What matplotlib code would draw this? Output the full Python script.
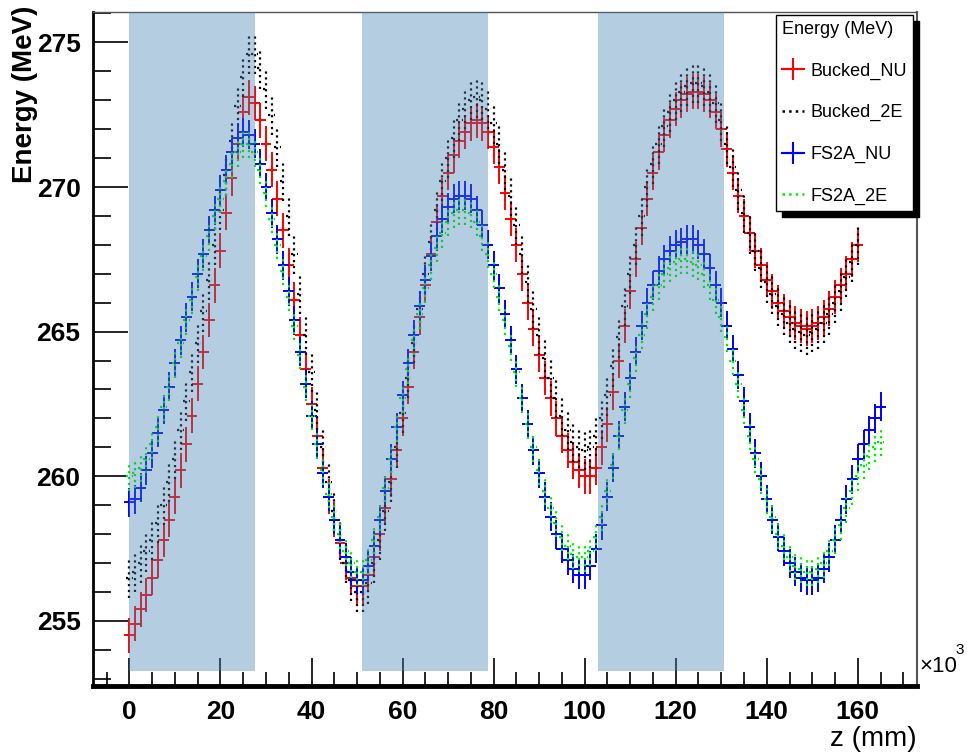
import numpy as np
import matplotlib
matplotlib.use("Agg")
import matplotlib.pyplot as plt
from matplotlib.lines import Line2D
from matplotlib.patches import Rectangle
from matplotlib.ticker import MultipleLocator

# z positions (x10^3 mm) of the sampled points
z_bucked = np.arange(0, 160.01, 1.25)
z_fs2a = np.arange(0, 165.01, 1.25)

bucked_nu = [254.5, 254.9, 255.4, 255.9, 256.5, 257.1, 257.8, 258.5,
             259.3, 260.2, 261.1, 262.1, 263.2, 264.3, 265.4, 266.6,
             267.8, 269.1, 270.3, 271.5, 272.6, 273.1, 272.9, 272.3,
             271.5, 270.6, 269.6, 268.5, 267.3, 266.1, 264.9, 263.7,
             262.5, 261.4, 260.3, 259.3, 258.5, 257.7, 257.0, 256.5,
             256.2, 256.2, 256.6, 257.2, 258.0, 258.9, 259.9, 260.9,
             262.0, 263.1, 264.3, 265.5, 266.6, 267.7, 268.8, 269.7,
             270.5, 271.1, 271.6, 271.9, 272.2, 272.3, 272.2, 271.9,
             271.4, 270.7, 269.8, 268.9, 268.0, 267.0, 266.0, 265.1,
             264.2, 263.4, 262.7, 262.0, 261.4, 260.9, 260.5, 260.2,
             260.0, 260.0, 260.3, 261.0, 261.8, 262.9, 264.0, 265.2,
             266.4, 267.5, 268.6, 269.6, 270.5, 271.2, 271.8, 272.3,
             272.7, 273.0, 273.2, 273.3, 273.3, 273.2, 273.0, 272.6,
             272.0, 271.3, 270.5, 269.7, 269.0, 268.4, 267.8, 267.3,
             266.8, 266.4, 266.0, 265.7, 265.5, 265.3, 265.2, 265.1,
             265.2, 265.3, 265.5, 265.8, 266.2, 266.6, 267.0, 267.5,
             268.0]

bucked_2e = [256.5, 256.7, 257.0, 257.4, 257.8, 258.4, 259.0, 259.8,
             260.6, 261.6, 262.6, 263.6, 264.6, 265.7, 266.8, 268.0,
             269.2, 270.4, 271.6, 272.8, 273.8, 274.6, 274.6, 274.1,
             273.4, 272.5, 271.4, 270.2, 269.0, 267.7, 266.3, 264.9,
             263.6, 262.3, 261.0, 259.8, 258.8, 257.8, 257.0, 256.4,
             256.0, 256.0, 256.3, 257.0, 257.8, 258.8, 259.8, 261.0,
             262.2, 263.4, 264.6, 265.8, 267.0, 268.1, 269.2, 270.2,
             271.0, 271.7, 272.3, 272.7, 273.0, 273.1, 273.0, 272.7,
             272.2, 271.5, 270.6, 269.7, 268.7, 267.7, 266.7, 265.8,
             264.9, 264.1, 263.4, 262.7, 262.1, 261.6, 261.2, 261.0,
             260.9, 261.0, 261.4, 262.0, 262.8, 263.8, 264.8, 265.9,
             267.0, 268.0, 269.0, 270.0, 270.8, 271.5, 272.1, 272.6,
             273.0, 273.3, 273.5, 273.6, 273.6, 273.5, 273.3, 272.9,
             272.3, 271.5, 270.7, 269.9, 269.1, 268.4, 267.8, 267.2,
             266.7, 266.3, 265.9, 265.6, 265.3, 265.1, 265.0, 264.9,
             265.0, 265.1, 265.3, 265.6, 266.0, 266.4, 266.9, 267.4,
             268.0]

fs2a_nu = [259.1, 259.2, 259.6, 260.2, 260.8, 261.5, 262.3, 263.1,
           263.9, 264.7, 265.5, 266.2, 267.0, 267.7, 268.5, 269.2,
           269.9, 270.6, 271.2, 271.7, 271.9, 271.8, 271.5, 270.8,
           270.0, 269.1, 268.2, 267.3, 266.4, 265.4, 264.3, 263.2,
           262.1, 261.1, 260.1, 259.3, 258.5, 257.8, 257.2, 256.7,
           256.4, 256.4, 256.9, 257.6, 258.5, 259.5, 260.6, 261.7,
           262.8, 263.9, 264.9, 265.9, 266.8, 267.6, 268.3, 268.9,
           269.3, 269.6, 269.7, 269.7, 269.6, 269.2, 268.7, 268.0,
           267.3, 266.5, 265.6, 264.7, 263.7, 262.7, 261.8, 260.9,
           260.1, 259.3, 258.6, 258.0, 257.5, 257.1, 256.8, 256.6,
           256.6, 256.9, 257.5, 258.3, 259.3, 260.3, 261.4, 262.4,
           263.4, 264.3, 265.2, 266.0, 266.6, 267.1, 267.5, 267.8,
           268.0, 268.1, 268.2, 268.2, 268.0, 267.7, 267.2, 266.6,
           266.0, 265.2, 264.4, 263.5, 262.6, 261.7, 260.8, 260.0,
           259.2, 258.5, 257.9, 257.4, 257.0, 256.7, 256.5, 256.4,
           256.4, 256.5, 256.8, 257.2, 257.8, 258.5, 259.2, 259.9,
           260.6, 261.1, 261.6, 262.0, 262.4]

fs2a_2e = [260.0, 260.1, 260.3, 260.6, 261.1, 261.7, 262.4, 263.1,
           263.9, 264.6, 265.4, 266.1, 266.9, 267.6, 268.3, 269.0,
           269.6, 270.2, 270.8, 271.2, 271.5, 271.5, 271.2, 270.6,
           269.8, 268.9, 268.0, 267.1, 266.2, 265.2, 264.2, 263.1,
           262.1, 261.1, 260.2, 259.4, 258.6, 258.0, 257.4, 257.0,
           256.7, 256.7, 257.1, 257.8, 258.6, 259.6, 260.6, 261.7,
           262.7, 263.7, 264.7, 265.6, 266.5, 267.3, 267.9, 268.4,
           268.8, 269.1, 269.2, 269.2, 269.1, 268.8, 268.3, 267.7,
           267.0, 266.2, 265.4, 264.5, 263.6, 262.7, 261.8, 261.0,
           260.2, 259.5, 258.9, 258.4, 257.9, 257.6, 257.3, 257.2,
           257.2, 257.4, 257.9, 258.6, 259.5, 260.4, 261.4, 262.3,
           263.2, 264.1, 264.9, 265.6, 266.2, 266.6, 267.0, 267.2,
           267.4, 267.5, 267.5, 267.4, 267.3, 267.0, 266.6, 266.1,
           265.5, 264.8, 264.0, 263.2, 262.3, 261.4, 260.6, 259.9,
           259.2, 258.6, 258.0, 257.6, 257.2, 256.9, 256.8, 256.7,
           256.7, 256.8, 257.0, 257.4, 257.8, 258.3, 258.9, 259.5,
           260.0, 260.4, 260.7, 261.0, 261.2]

# shaded regions (x10^3 mm)
bands = [(0, 27.5), (51, 78.7), (102.9, 130.5)]

# name, z, energy, colour, line style, x error, y error, error line width
series = [
    ("Bucked_NU", z_bucked, bucked_nu, "#ff0000", "-", 1.2, 0.6, 1.4),
    ("Bucked_2E", z_bucked, bucked_2e, "black", ":", 0.7, 0.7, 1.6),
    ("FS2A_NU", z_fs2a, fs2a_nu, "#0000ff", "-", 1.2, 0.5, 1.4),
    ("FS2A_2E", z_fs2a, fs2a_2e, "#00ee00", ":", 0.7, 0.5, 1.6),
]

tick_font = dict(family=["Liberation Sans", "DejaVu Sans"], weight="bold", size=19)
leg_font = dict(family=["Liberation Sans", "DejaVu Sans"], size=13)

fig = plt.figure(figsize=(9.67, 7.52), dpi=100)
ax = fig.add_axes([93 / 967, 1 - 686 / 752, (917 - 93) / 967, (686 - 12) / 752])

handles = []
for name, z, e, col, ls, xe, ye, lw in series:
    eb = ax.errorbar(z, e, xerr=xe, yerr=ye, fmt="none", ecolor=col,
                     elinewidth=lw, capsize=0, zorder=3)
    for lc in eb[2]:
        lc.set_linestyle(ls)
    if ls == "-":
        h = Line2D([], [], color=col, lw=1.5, marker="+", markersize=16, mew=1.5)
    else:
        h = Line2D([], [], color=col, lw=1.8, ls=":")
    handles.append(h)

# the shaded regions sit on top of the data, like in the original
for x0, x1 in bands:
    ax.axvspan(x0, x1, ymin=0.022, ymax=1, color="#4682b4", alpha=0.4, lw=0, zorder=5)

ax.set_xlim(-8, 173)
ax.set_ylim(252.75, 276.05)

ax.xaxis.set_major_locator(MultipleLocator(20))
ax.xaxis.set_minor_locator(MultipleLocator(5))
ax.yaxis.set_major_locator(MultipleLocator(5))
ax.yaxis.set_minor_locator(MultipleLocator(1))
ax.tick_params(which="major", direction="in", length=20, width=1.2, color="black")
ax.tick_params(which="minor", direction="in", length=10, width=1.2, color="black")
ax.tick_params(axis="y", which="major", length=25, pad=9)
ax.tick_params(axis="y", which="minor", length=13)
ax.tick_params(axis="x", pad=10)
ax.tick_params(top=False, right=False)
for lab in ax.get_xticklabels() + ax.get_yticklabels():
    lab.set_fontproperties(matplotlib.font_manager.FontProperties(**tick_font))

ax.spines["left"].set_linewidth(2)
ax.spines["bottom"].set_linewidth(3.5)
ax.spines["top"].set_linewidth(1)
ax.spines["top"].set_color("#555555")
ax.spines["right"].set_linewidth(1.5)
ax.spines["right"].set_color("#555555")

fig.text(25 / 967, 1 - 6 / 752, "Energy (MeV)", rotation=90, ha="center", va="top",
         family=["Liberation Sans", "DejaVu Sans"], weight="bold", size=20)

fig.text(919 / 967, 1 - 667 / 752, "\u00d710", ha="left", va="center",
         family=["Liberation Sans", "DejaVu Sans"], size=16)
fig.text(955 / 967, 1 - 650 / 752, "3", ha="left", va="center",
         family=["Liberation Sans", "DejaVu Sans"], size=11)

fig.text(917 / 967, 1 - 726 / 752, "z (mm)", ha="right", va="top",
         family=["Liberation Sans", "DejaVu Sans"], size=20)

leg = ax.legend(handles, [s[0] for s in series], title="Energy (MeV)",
                loc="upper left", bbox_to_anchor=(776 / 967, 1 - 15 / 752),
                bbox_transform=fig.transFigure, prop=leg_font, title_fontproperties=leg_font,
                alignment="left", frameon=True, fancybox=False, edgecolor="black",
                framealpha=1, borderpad=0.35, labelspacing=1.35, handlelength=1.2,
                handletextpad=0.35, borderaxespad=0)
leg.get_frame().set_linewidth(1)
leg.set_zorder(10)

# ROOT style black drop shadow behind the legend box
fig.canvas.draw()
bb = leg.get_window_extent()
ax.add_artist(Rectangle((bb.x0 + 6, bb.y0 - 6), bb.width, bb.height, transform=None,
                        facecolor="black", edgecolor="black", zorder=9, clip_on=False))

fig.savefig("out.png", dpi=100)
